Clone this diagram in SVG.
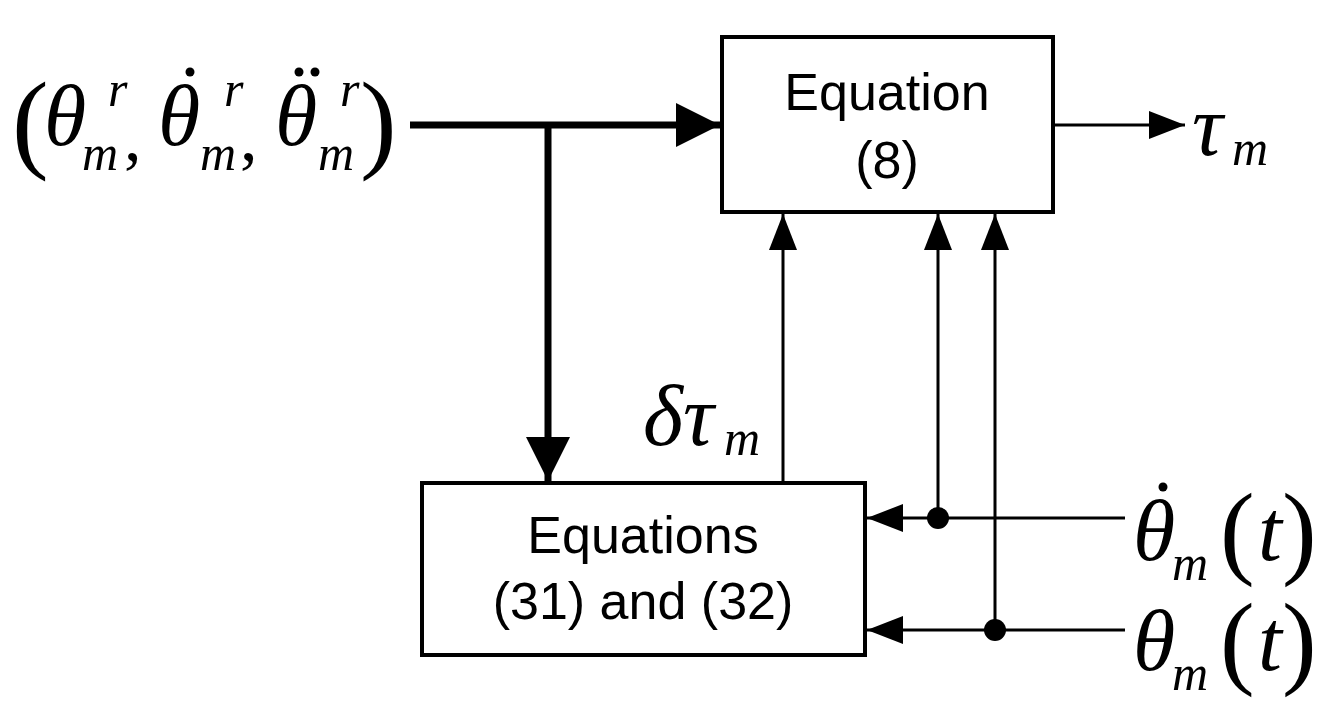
<svg xmlns="http://www.w3.org/2000/svg" width="1339" height="706" viewBox="0 0 1339 706">
<style>
.box{fill:#fff;stroke:#000;stroke-width:4}
.lbl{font-family:"Liberation Sans",Arial,sans-serif;font-size:52px;text-anchor:middle}
.m{font-family:"Liberation Serif","Times New Roman",serif;font-style:italic}
.up{font-family:"Liberation Serif","Times New Roman",serif}
.thin{stroke:#000;stroke-width:3;fill:none}
.thick{stroke:#000;stroke-width:7;fill:none}
</style>
<defs>
<marker id="a" markerUnits="userSpaceOnUse" markerWidth="40" markerHeight="30" refX="36" refY="14" orient="auto"><path d="M0,0 L36,14 L0,28 Z"/></marker>
<marker id="A" markerUnits="userSpaceOnUse" markerWidth="50" markerHeight="50" refX="44" refY="22" orient="auto"><path d="M0,0 L44,22 L0,44 Z"/></marker>
</defs>
<g id="connectors">
<path class="thick" d="M410,125 H720" marker-end="url(#A)"/>
<path class="thick" d="M548,125 V481" marker-end="url(#A)"/>
<path class="thin" d="M1053,125 H1185" marker-end="url(#a)"/>
<path class="thin" d="M783,483 V214" marker-end="url(#a)"/>
<path class="thin" d="M938,518 V214" marker-end="url(#a)"/>
<path class="thin" d="M995,630 V214" marker-end="url(#a)"/>
<path class="thin" d="M1125,518 H867" marker-end="url(#a)"/>
<path class="thin" d="M1125,630 H867" marker-end="url(#a)"/>
<circle cx="938" cy="518" r="11"/>
<circle cx="995" cy="630" r="11"/>
</g>
<g id="eq8">
<rect class="box" x="722" y="37" width="331" height="175"/>
<text class="lbl" x="887" y="110">Equation</text>
<text class="lbl" x="887" y="178">(8)</text>
</g>
<g id="eq3132">
<rect class="box" x="422" y="483" width="443" height="172"/>
<text class="lbl" x="643" y="553">Equations</text>
<text class="lbl" x="643" y="619">(31) and (32)</text>
</g>
<g id="input">
<text class="up" x="12" y="158" font-size="110">(</text>
<text class="m" x="44" y="145" font-size="86">θ</text>
<text class="m" x="108" y="106" font-size="50">r</text>
<text class="m" x="82" y="170" font-size="50">m</text>
<text class="up" x="124" y="160" font-size="70">,</text>
<text class="m" x="158" y="145" font-size="86">θ</text>
<circle cx="190" cy="72" r="4.5"/>
<text class="m" x="224" y="106" font-size="50">r</text>
<text class="m" x="200" y="170" font-size="50">m</text>
<text class="up" x="240" y="160" font-size="70">,</text>
<text class="m" x="275" y="145" font-size="86">θ</text>
<circle cx="299" cy="72" r="4.5"/>
<circle cx="315" cy="72" r="4.5"/>
<text class="m" x="340" y="106" font-size="50">r</text>
<text class="m" x="318" y="170" font-size="50">m</text>
<text class="up" x="360" y="158" font-size="110">)</text>
</g>
<g id="tau">
<text class="m" x="1192" y="155" font-size="86">τ</text>
<text class="m" x="1232" y="165" font-size="50">m</text>
</g>
<g id="dtau">
<text class="m" x="643" y="445" font-size="86">δτ</text>
<text class="m" x="724" y="455" font-size="50">m</text>
</g>
<g id="thetadot">
<text class="m" x="1133" y="560" font-size="86">θ</text>
<circle cx="1163" cy="487" r="4.5"/>
<text class="m" x="1172" y="580" font-size="50">m</text>
<text class="up" x="1220" y="565" font-size="104">(</text>
<text class="m" x="1258" y="560" font-size="86">t</text>
<text class="up" x="1282" y="565" font-size="104">)</text>
</g>
<g id="theta">
<text class="m" x="1133" y="670" font-size="86">θ</text>
<text class="m" x="1172" y="690" font-size="50">m</text>
<text class="up" x="1220" y="675" font-size="104">(</text>
<text class="m" x="1258" y="670" font-size="86">t</text>
<text class="up" x="1282" y="675" font-size="104">)</text>
</g>
</svg>
